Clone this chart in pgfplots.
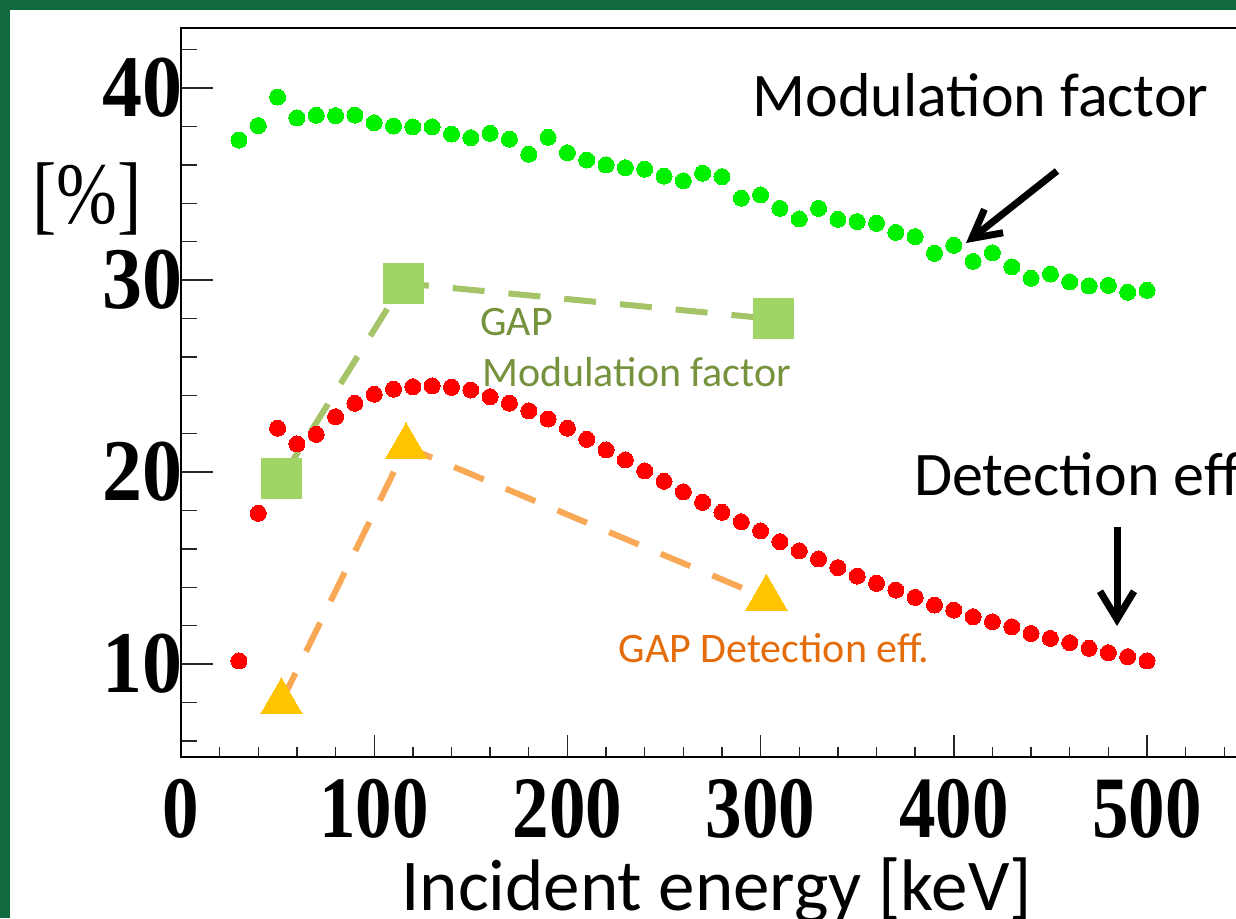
\documentclass[border=0pt]{standalone}
\usepackage{pgfplots}
\pgfplotsset{compat=1.18}
\usepackage{pgfplotstable}
\usepackage{fontspec}
\setmainfont{Carlito}
\newfontfamily\timesf{Liberation Serif}
\usetikzlibrary{arrows.meta}
\definecolor{frameg}{RGB}{17,106,63}
\definecolor{modg}{RGB}{0,240,0}
\definecolor{sqg}{RGB}{160,212,100}
\definecolor{dashg}{RGB}{165,196,104}
\definecolor{dasho}{RGB}{249,168,85}
\definecolor{trig}{RGB}{255,196,0}
\definecolor{txtg}{RGB}{118,146,60}
\definecolor{txto}{RGB}{228,108,10}

\pgfplotstableread{
x y
30 37.29
40 38.04
50 39.53
60 38.44
70 38.58
80 38.56
90 38.59
100 38.19
110 38.02
120 37.97
130 37.97
140 37.60
150 37.41
160 37.64
170 37.33
180 36.55
190 37.43
200 36.63
210 36.25
220 35.99
230 35.85
240 35.77
250 35.41
260 35.17
270 35.56
280 35.38
290 34.26
300 34.43
310 33.73
320 33.18
330 33.73
340 33.16
350 33.04
360 32.95
370 32.48
380 32.26
390 31.39
400 31.81
410 30.97
420 31.42
430 30.69
440 30.09
450 30.31
460 29.90
470 29.69
480 29.72
490 29.36
500 29.46
}\modtab

\pgfplotstableread{
x y
30 10.16
40 17.85
50 22.28
60 21.46
70 21.96
80 22.88
90 23.58
100 24.05
110 24.31
120 24.44
130 24.49
140 24.41
150 24.27
160 23.92
170 23.58
180 23.19
190 22.76
200 22.28
210 21.70
220 21.15
230 20.63
240 20.06
250 19.52
260 18.97
270 18.42
280 17.90
290 17.41
300 16.93
310 16.37
320 15.89
330 15.47
340 15.02
350 14.58
360 14.20
370 13.85
380 13.47
390 13.07
400 12.81
410 12.46
420 12.20
430 11.94
440 11.59
450 11.33
460 11.11
470 10.82
480 10.59
490 10.38
500 10.16
}\dettab

\begin{document}
\begin{tikzpicture}
\useasboundingbox (0,0) rectangle (618pt,459pt);
\clip (0,0) rectangle (618pt,459pt);
\begin{scope}[x=0.5pt,y=0.5pt]
\fill[frameg] (0,0) rectangle (1236,918);
\fill[white] (10,0) rectangle (1236,908);
\end{scope}
\begin{axis}[
  at={(90.5pt,80.5pt)}, anchor=south west,
  scale only axis, width=540.96pt, height=364.5pt,
  xmin=0, xmax=560, ymin=5.156, ymax=43.125,
  axis line style={line width=1pt, black},
  tick align=inside, xtick pos=lower, ytick pos=left,
  xtick={0,100,...,500}, minor xtick={20,40,...,560},
  ytick={10,20,30,40}, minor ytick={6,8,...,42},
  major tick length=16pt, minor tick length=8pt,
  xtick style={/pgfplots/major tick length=11pt,/pgfplots/minor tick length=5pt},
  tick style={line width=0.7pt, black!85},
  /pgf/number format/assume math mode=true,
  xticklabel style={font=\timesf\bfseries\fontsize{36.5}{40}\selectfont, inner sep=0pt, yscale=1.2, yshift=-9pt},
  yticklabel style={font=\timesf\bfseries\fontsize{40}{44}\selectfont, inner sep=0pt, yscale=1.1, xshift=1pt},
]
\addplot[dashg, line width=3pt, dash pattern=on 16pt off 12pt, mark=square*, mark size=10pt, mark options={solid, draw=sqg, fill=sqg, line width=0pt}] coordinates {(52,19.65)(115,29.83)(306.6,27.97)};
\addplot[dasho, line width=3pt, dash pattern=on 16pt off 12pt, mark=triangle*, mark size=12pt, mark options={solid, draw=trig, fill=trig, line width=0pt}] coordinates {(52,8.03)(116.5,21.31)(303,13.43)};
\addplot[only marks, mark=*, mark size=4pt, mark options={draw=red, fill=red, line width=0pt}] table {\dettab};
\addplot[only marks, mark=*, mark size=4pt, mark options={draw=modg, fill=modg, line width=0pt}] table {\modtab};
\end{axis}
\begin{scope}[x=0.5pt,y=0.5pt]
\node[anchor=center, inner sep=0pt, yscale=1.2, font=\timesf\fontsize{36.5}{40}\selectfont] at (87,719) {[\%]};
\node[anchor=base, inner sep=0pt, font=\fontsize{36.5}{40}\selectfont] at (716.5,7.3) {Incident energy [keV]};
\node[anchor=base west, inner sep=0pt, font=\fontsize{31}{36}\selectfont] at (752,801.3) {Modulation factor};
\node[anchor=base west, inner sep=0pt, font=\fontsize{31}{36}\selectfont] at (913.7,423) {Detection eff.};
\node[anchor=base west, inner sep=0pt, text=txtg, font=\fontsize{21}{25}\selectfont] at (480,583) {GAP};
\node[anchor=base west, inner sep=0pt, text=txtg, font=\fontsize{21}{25}\selectfont] at (481.7,531.3) {Modulation factor};
\node[anchor=base west, inner sep=0pt, text=txto, font=\fontsize{21}{25}\selectfont] at (618.3,255.3) {GAP Detection eff.};
\draw[line width=3.5pt, -{Straight Barb[length=14pt,width=15pt]}] (1057,747) -- (966,675);
\draw[line width=3.5pt, -{Straight Barb[length=14pt,width=17pt]}] (1117,391.3) -- (1117,292);
\end{scope}
\end{tikzpicture}
\end{document}
